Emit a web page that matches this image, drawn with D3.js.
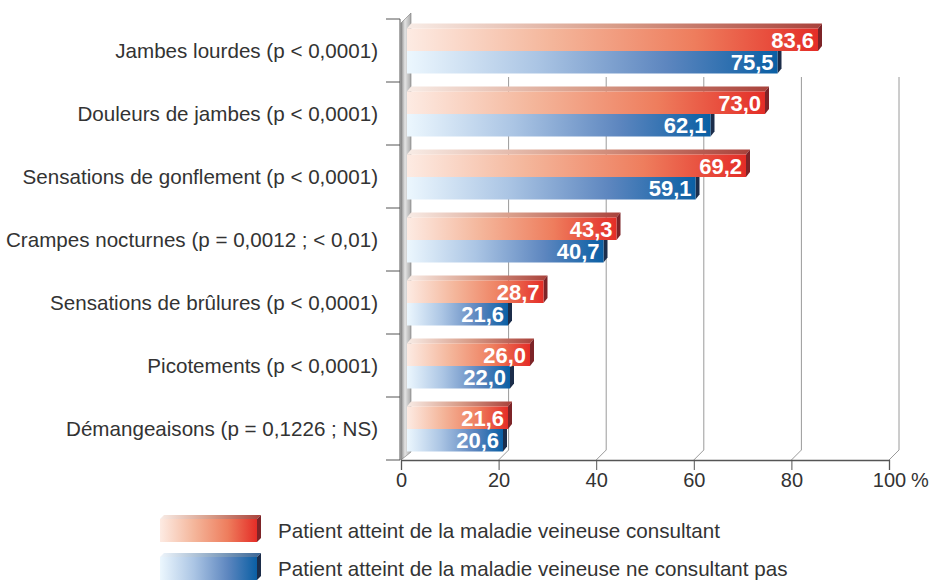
<!DOCTYPE html>
<html>
<head>
<meta charset="utf-8">
<script src="https://cdn.jsdelivr.net/npm/d3@7"></script>
<style>
  body { margin: 0; background: #fff; }
  text { font-family: "Liberation Sans", Arial, sans-serif; }
</style>
</head>
<body>
<div id="chart"></div>
<script>
var w = 930, h = 580;

// data
var categories = [
    "Jambes lourdes (p < 0,0001)",
    "Douleurs de jambes (p < 0,0001)",
    "Sensations de gonflement (p < 0,0001)",
    "Crampes nocturnes (p = 0,0012 ; < 0,01)",
    "Sensations de brûlures (p < 0,0001)",
    "Picotements (p < 0,0001)",
    "Démangeaisons (p = 0,1226 ; NS)"
];
var consultant = [83.6, 73.0, 69.2, 43.3, 28.7, 26.0, 21.6];
var nonConsultant = [75.5, 62.1, 59.1, 40.7, 21.6, 22.0, 20.6];
var ticks = [0, 20, 40, 60, 80, 100];
var seriesNames = [
    "Patient atteint de la maladie veineuse consultant",
    "Patient atteint de la maladie veineuse ne consultant pas"
];

var svg = d3.select("#chart").append("svg")
    .attr("width", w).attr("height", h);

svg.html(`<defs>
<linearGradient id="redFront" x1="0" x2="1" y1="0" y2="0">
  <stop offset="0%" stop-color="#fdebe3"/>
  <stop offset="35%" stop-color="#f4b69b"/>
  <stop offset="70%" stop-color="#ee7d5d"/>
  <stop offset="100%" stop-color="#e42d27"/>
</linearGradient>
<linearGradient id="redTop" x1="0" x2="1" y1="0" y2="0">
  <stop offset="0%" stop-color="#f8ece6"/>
  <stop offset="50%" stop-color="#d89c88"/>
  <stop offset="100%" stop-color="#a9423b"/>
</linearGradient>
<linearGradient id="blueFront" x1="0" x2="1" y1="0" y2="0">
  <stop offset="0%" stop-color="#ecf7fe"/>
  <stop offset="35%" stop-color="#abc5e4"/>
  <stop offset="70%" stop-color="#5d86bf"/>
  <stop offset="100%" stop-color="#0a5fa4"/>
</linearGradient>
<linearGradient id="blueTop" x1="0" x2="1" y1="0" y2="0">
  <stop offset="0%" stop-color="#eef5fb"/>
  <stop offset="100%" stop-color="#3a6696"/>
</linearGradient>
<linearGradient id="wall" x1="0" x2="1" y1="0" y2="0">
  <stop offset="0%" stop-color="#8a8a8a"/>
  <stop offset="40%" stop-color="#e4e4e4"/>
  <stop offset="100%" stop-color="#a8a8a8"/>
</linearGradient>
</defs>`);

var fmt = function (v) { return d3.format(".1f")(v).replace(".", ","); };

// front axis scale, back wall is shifted by the depth
var x = d3.scaleLinear().domain([0, 100]).range([401, 889]);
// bars are drawn a bit wider than the axis in the original
var xBar = d3.scaleLinear().domain([0, 100]).range([400, 900]);
var y = d3.scaleBand().domain(categories).range([19, 460]);

var depth = 10, barDepthX = 4, barDepthY = 5, barH = 22.5, barX0 = 407;
var floorY = 460;

// back grid lines with their diagonal to the front axis
var grid = svg.append("g").attr("stroke", "#9a9a9a").attr("fill", "none");
grid.selectAll("path").data(ticks).enter().append("path")
    .attr("d", function (t) {
        var p = "M" + x(t) + "," + floorY + "L" + (x(t) + depth) + "," + (floorY - depth);
        if (t > 0) p += "V77";
        return p;
    });

// left wall
svg.append("path")
    .attr("d", "M401,23 L411,13 L411,452 L401,460 Z")
    .attr("fill", "url(#wall)")
    .attr("stroke", "#7a7a7a").attr("stroke-width", 0.6);

// bars
function drawBar(g, v, y0, front, top, side) {
    var x1 = xBar(v);
    g.append("path")
        .attr("d", "M" + barX0 + "," + y0 + "L" + (barX0 + barDepthX) + "," + (y0 - barDepthY) +
            "H" + (x1 + barDepthX) + "L" + x1 + "," + y0 + "Z")
        .attr("fill", top);
    g.append("path")
        .attr("d", "M" + x1 + "," + y0 + "L" + (x1 + barDepthX) + "," + (y0 - barDepthY) +
            "V" + (y0 + barH - barDepthY) + "L" + x1 + "," + (y0 + barH) + "Z")
        .attr("fill", side);
    g.append("rect")
        .attr("x", barX0).attr("y", y0)
        .attr("width", x1 - barX0).attr("height", barH)
        .attr("fill", front);
    g.append("text")
        .attr("x", x1 - 4).attr("y", y0 + barH / 2)
        .attr("dy", "0.36em")
        .attr("text-anchor", "end")
        .attr("fill", "#fff")
        .attr("font-weight", "bold")
        .attr("font-size", "22px")
        .text(fmt(v));
}

var rows = svg.append("g").selectAll("g").data(categories).enter().append("g");
rows.each(function (c, i) {
    var g = d3.select(this);
    drawBar(g, nonConsultant[i], y(c) + 32, "url(#blueFront)", "url(#blueTop)", "#1c2d4a");
    drawBar(g, consultant[i], y(c) + 9.5, "url(#redFront)", "url(#redTop)", "#7d2428");
});

// left axis
var left = svg.append("g").attr("stroke", "#555");
left.append("line").attr("x1", 400).attr("x2", 400).attr("y1", 19).attr("y2", floorY);
left.selectAll("line.tk").data(categories.concat(["end"])).enter().append("line")
    .attr("class", "tk")
    .attr("x1", 386).attr("x2", 400)
    .attr("y1", function (d, i) { return i < categories.length ? y(d) : floorY; })
    .attr("y2", function (d, i) { return i < categories.length ? y(d) : floorY; });

svg.append("g").selectAll("text").data(categories).enter().append("text")
    .attr("x", 378)
    .attr("y", function (d) { return y(d) + y.bandwidth() / 2; })
    .attr("dy", "0.35em")
    .attr("text-anchor", "end")
    .attr("font-size", "20.6px")
    .attr("fill", "#333")
    .text(function (d) { return d; });

// bottom axis
var bottom = svg.append("g")
    .attr("transform", "translate(0," + floorY + ")")
    .call(d3.axisBottom(x).tickValues(ticks).tickSize(10).tickPadding(3));
bottom.select(".domain").attr("stroke", "#555").attr("stroke-width", 1.3);
bottom.selectAll(".tick line").attr("stroke", "#555");
bottom.selectAll(".tick text")
    .attr("font-family", "Liberation Sans, Arial, sans-serif")
    .attr("font-size", "20px").attr("fill", "#333");
svg.append("text")
    .attr("x", x(100) + 22).attr("y", 487)
    .style("font-size", "20px").attr("fill", "#333")
    .text("%");

// legend
var legend = svg.append("g").selectAll("g").data(seriesNames).enter().append("g")
    .attr("transform", function (d, i) { return "translate(160," + (519 + i * 38) + ")"; });
var legFront = ["url(#redFront)", "url(#blueFront)"];
var legTop = ["url(#redTop)", "url(#blueTop)"];
var legSide = ["#7d2428", "#1c2d4a"];
legend.append("path")
    .attr("d", "M0,0 L4,-4 H101 L97,0 Z")
    .attr("fill", function (d, i) { return legTop[i]; });
legend.append("path")
    .attr("d", "M97,0 L101,-4 V19 L97,23 Z")
    .attr("fill", function (d, i) { return legSide[i]; });
legend.append("rect")
    .attr("width", 97).attr("height", 23)
    .attr("fill", function (d, i) { return legFront[i]; });
legend.append("text")
    .attr("x", 118).attr("y", 11.5).attr("dy", "0.35em")
    .attr("font-size", "20.6px").attr("fill", "#333")
    .text(function (d) { return d; });
</script>
</body>
</html>
